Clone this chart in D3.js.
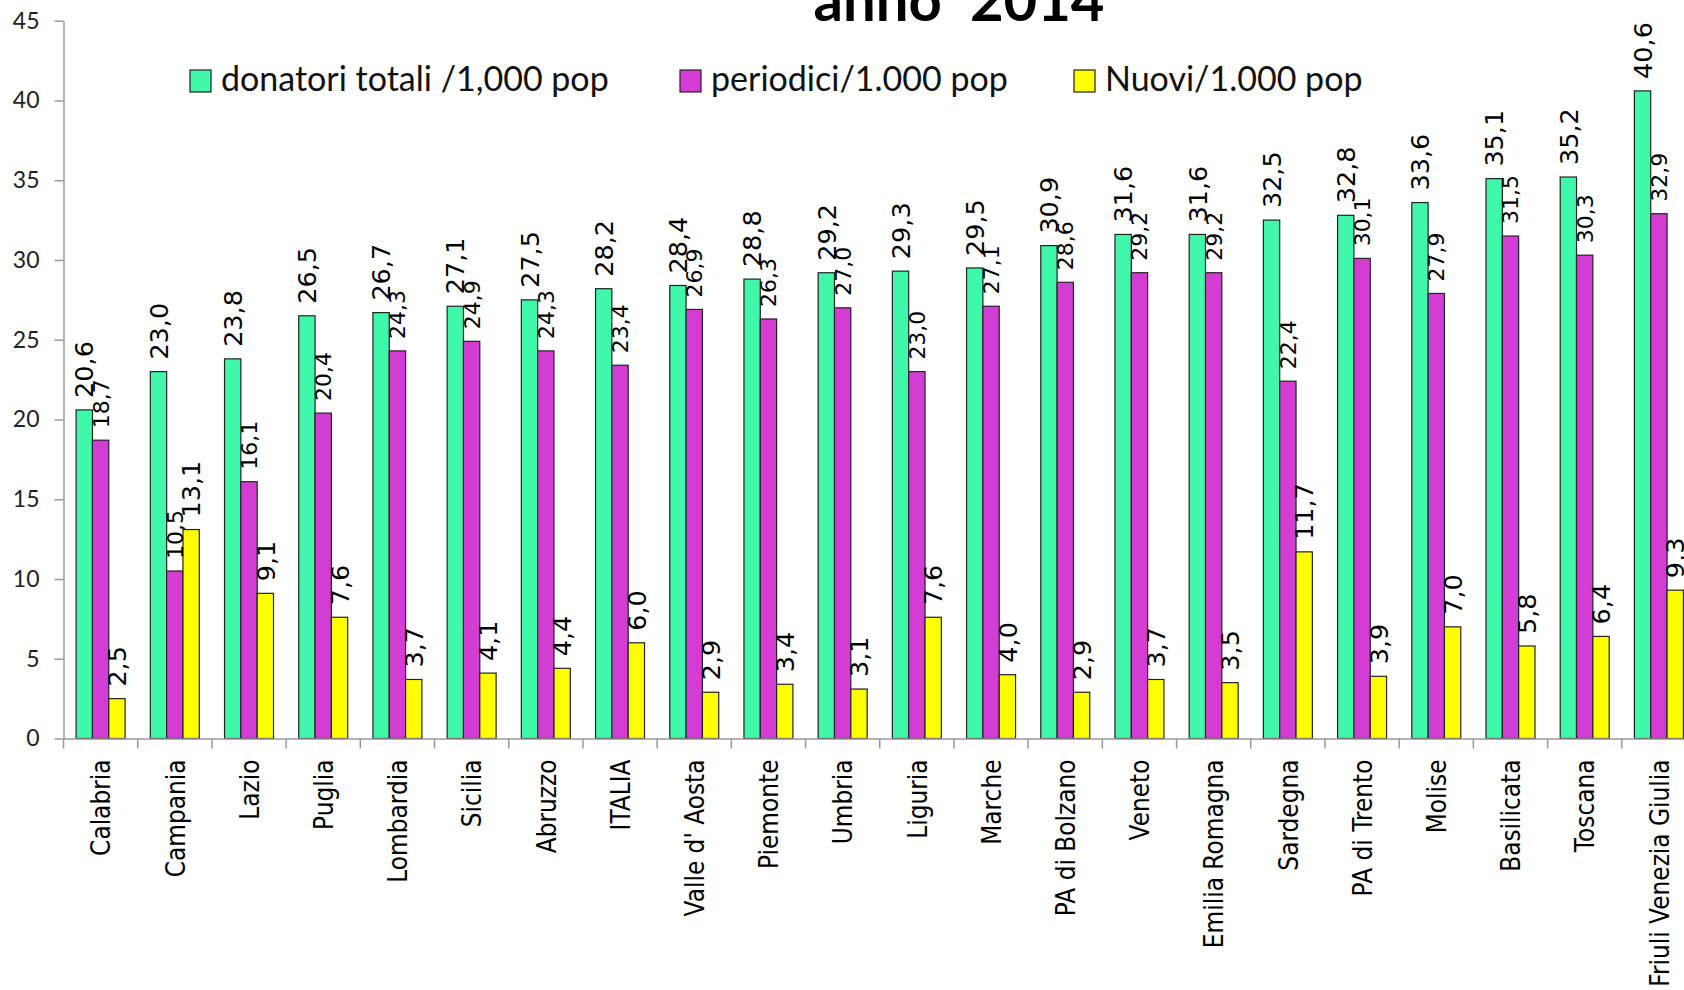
<!DOCTYPE html>
<html>
<head>
<meta charset="utf-8">
<script src="https://cdnjs.cloudflare.com/ajax/libs/d3/7.8.5/d3.min.js"></script>
<style>
  html, body { margin: 0; padding: 0; background: #fff; }
  svg { display: block; }
</style>
</head>
<body>
<svg id="chart" width="1684" height="990"></svg>
<script>
(function() {
  'use strict';

  // regions, ordered by total donors
  var categories = ['Calabria', 'Campania', 'Lazio', 'Puglia', 'Lombardia', 'Sicilia',
    'Abruzzo', 'ITALIA', "Valle d' Aosta", 'Piemonte', 'Umbria', 'Liguria', 'Marche',
    'PA di Bolzano', 'Veneto', 'Emilia Romagna', 'Sardegna', 'PA di Trento', 'Molise',
    'Basilicata', 'Toscana', 'Friuli Venezia Giulia'];

  var totali = [20.6, 23.0, 23.8, 26.5, 26.7, 27.1, 27.5, 28.2, 28.4, 28.8, 29.2,
    29.3, 29.5, 30.9, 31.6, 31.6, 32.5, 32.8, 33.6, 35.1, 35.2, 40.6];
  var periodici = [18.7, 10.5, 16.1, 20.4, 24.3, 24.9, 24.3, 23.4, 26.9, 26.3, 27.0,
    23.0, 27.1, 28.6, 29.2, 29.2, 22.4, 30.1, 27.9, 31.5, 30.3, 32.9];
  var nuovi = [2.5, 13.1, 9.1, 7.6, 3.7, 4.1, 4.4, 6.0, 2.9, 3.4, 3.1,
    7.6, 4.0, 2.9, 3.7, 3.5, 11.7, 3.9, 7.0, 5.8, 6.4, 9.3];

  var seriesNames = ['donatori totali /1,000 pop', 'periodici/1.000 pop', 'Nuovi/1.000 pop'];
  var seriesColors = ['#40f8a9', '#d43dd4', '#ffff00'];
  var yTicks = [0, 5, 10, 15, 20, 25, 30, 35, 40, 45];

  var series = [totali, periodici, nuovi];

  var svg = d3.select('#chart');

  var x0 = d3.scaleBand()
    .domain(categories)
    .range([63.5, 1696])
    .paddingInner(0.34)
    .paddingOuter(0.17);

  var x1 = d3.scaleBand()
    .domain(d3.range(series.length))
    .range([0, x0.bandwidth()]);

  var y = d3.scaleLinear()
    .domain([0, 45])
    .range([738.5, 20.7]);

  var fmt = function(v) { return d3.format('.1f')(v).replace('.', ','); };

  // title (top line is off the picture)
  svg.append('text')
    .attr('x', 959)
    .attr('y', 21)
    .attr('text-anchor', 'middle')
    .style('font-family', 'Lato, sans-serif')
    .style('font-weight', 'bold')
    .style('font-size', '58px')
    .style('white-space', 'pre')
    .attr('fill', '#000')
    .text('anno  2014');

  // y axis
  var yAxis = svg.append('g')
    .attr('transform', 'translate(63.5,0)')
    .call(d3.axisLeft(y).tickValues(yTicks).tickSize(9).tickSizeOuter(0).tickPadding(15));
  yAxis.select('.domain').attr('stroke', '#9a9a9a').attr('stroke-width', 1.5);
  yAxis.selectAll('.tick line').attr('stroke', '#9a9a9a').attr('stroke-width', 1.5);
  yAxis.selectAll('.tick text')
    .style('font-family', 'Lato, sans-serif')
    .style('font-size', '23px')
    .attr('fill', '#222');

  // bars
  var groups = svg.append('g').selectAll('g')
    .data(categories)
    .enter().append('g')
    .attr('transform', function(d) { return 'translate(' + x0(d) + ',0)'; });

  groups.selectAll('rect')
    .data(function(d, i) { return series.map(function(s, k) { return { k: k, v: s[i] }; }); })
    .enter().append('rect')
    .attr('x', function(d) { return x1(d.k); })
    .attr('y', function(d) { return y(d.v); })
    .attr('width', x1.bandwidth())
    .attr('height', function(d) { return y(0) - y(d.v); })
    .attr('fill', function(d) { return seriesColors[d.k]; })
    .attr('stroke', '#222')
    .attr('stroke-width', 1.2);

  // x axis: labels from the band scale, ticks between categories
  var xAxis = svg.append('g')
    .attr('transform', 'translate(0,' + y(0) + ')')
    .call(d3.axisBottom(x0).tickSize(0).tickSizeOuter(0));
  xAxis.select('.domain').attr('stroke', '#9a9a9a').attr('stroke-width', 1.5);
  xAxis.selectAll('.tick text')
    .attr('transform', 'translate(0,21) scale(1.16,1) rotate(-90)')
    .attr('x', 0)
    .attr('y', 0)
    .attr('dy', '0.36em')
    .attr('text-anchor', 'end')
    .style('font-family', '"DejaVu Sans", sans-serif')
    .style('font-size', '23.3px')
    .attr('fill', '#000');

  var step = x0.step();
  var start = x0.range()[0];
  xAxis.append('g').selectAll('line')
    .data(d3.range(categories.length + 1))
    .enter().append('line')
    .attr('x1', function(i) { return start + i * step; })
    .attr('x2', function(i) { return start + i * step; })
    .attr('y1', 0)
    .attr('y2', 10)
    .attr('stroke', '#9a9a9a')
    .attr('stroke-width', 1.5);

  // value labels, drawn after all bars
  var labelSizes = [25.5, 22, 25.5];
  var labels = svg.append('g');
  series.forEach(function(s, k) {
    labels.selectAll('text.s' + k)
      .data(s)
      .enter().append('text')
      .attr('class', 's' + k)
      .attr('transform', function(v, i) {
        var cx = x0(categories[i]) + x1(k) + x1.bandwidth() / 2;
        return 'translate(' + cx + ',' + (y(v) - 12) + ') rotate(-90)';
      })
      .attr('dy', '0.36em')
      .attr('text-anchor', 'start')
      .style('font-family', '"DejaVu Sans", sans-serif')
      .style('font-size', labelSizes[k] + 'px')
      .attr('fill', '#000')
      .text(fmt);
  });

  // legend
  var legendX = [190, 680, 1074];
  var legend = svg.append('g').selectAll('g')
    .data(seriesNames)
    .enter().append('g')
    .attr('transform', function(d, i) { return 'translate(' + legendX[i] + ',70)'; });
  legend.append('rect')
    .attr('width', 21)
    .attr('height', 22)
    .attr('fill', function(d, i) { return seriesColors[i]; })
    .attr('stroke', '#222')
    .attr('stroke-width', 1.2);
  legend.append('text')
    .attr('x', 31)
    .attr('y', 21)
    .style('font-family', 'Lato, sans-serif')
    .style('font-size', '34px')
    .attr('fill', '#111')
    .text(function(d) { return d; });
})();
</script>
</body>
</html>
